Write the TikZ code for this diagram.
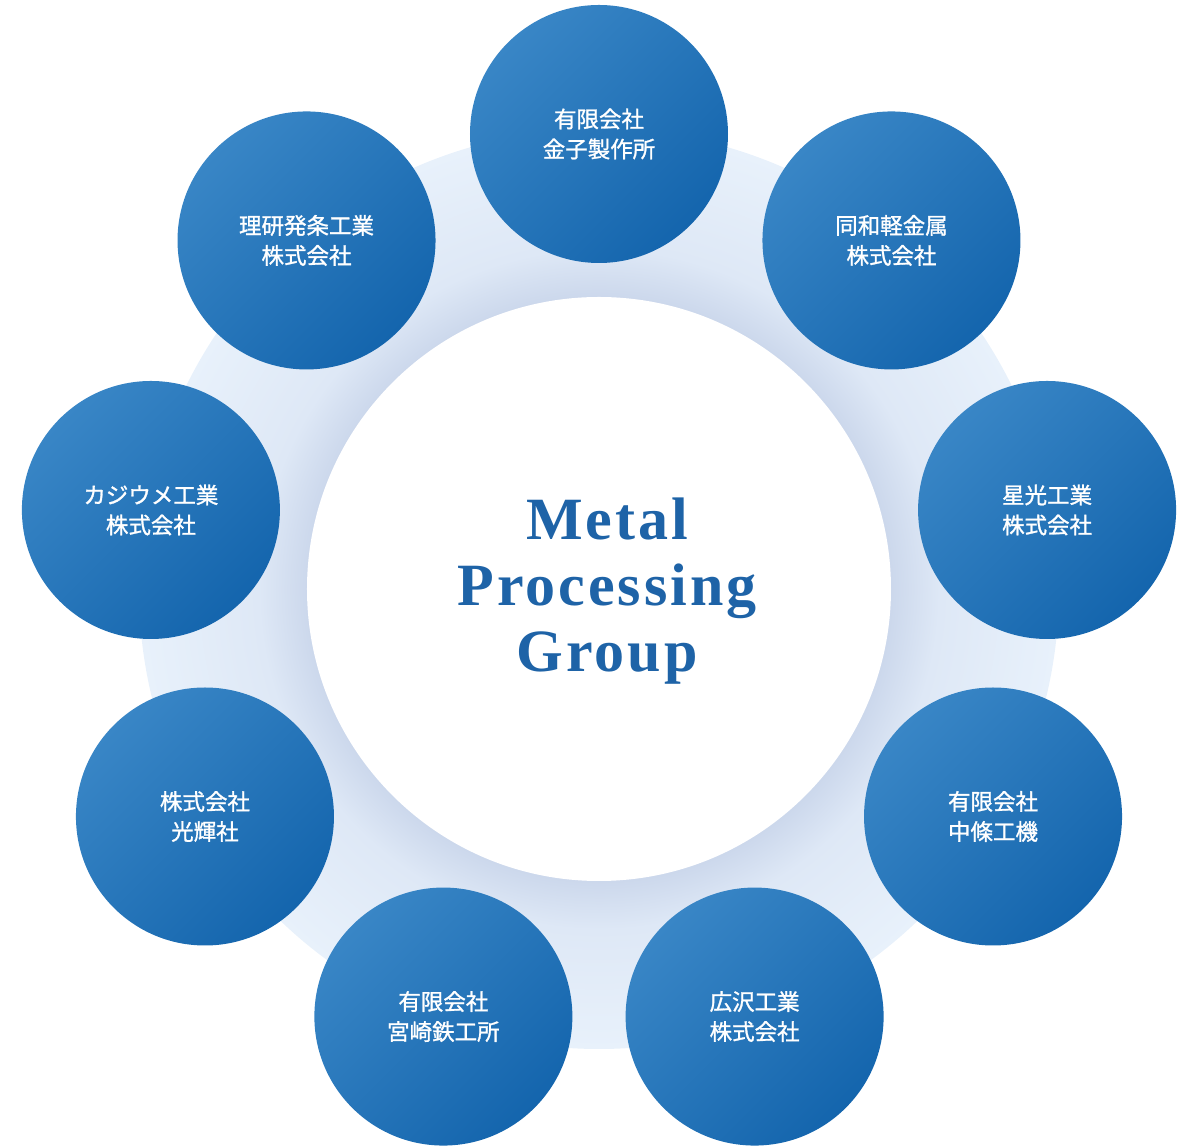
\documentclass[tikz,border=0pt]{standalone}
\usepackage{fontspec}
\usepackage[rgb]{xcolor}
\usepackage{tikz}

\newfontfamily\jpfont[FakeBold=1.2]{Noto Sans CJK JP}
\newfontfamily\titlefont[LetterSpace=5]{Liberation Serif}

\definecolor{firmlight}{HTML}{3986C6}
\definecolor{firmdark}{HTML}{1465AD}
\definecolor{ringlight}{HTML}{E8F1FB}
\definecolor{ringmid}{HTML}{DEE8F6}
\definecolor{ringshadow}{HTML}{CCD8EC}
\definecolor{titleblue}{HTML}{1E63A7}

\pgfdeclareradialshading{ringshade}{\pgfpoint{0bp}{0bp}}{%
  color(0bp)=(ringshadow); color(15.9bp)=(ringshadow);
  color(18.5bp)=(ringmid); color(25bp)=(ringlight); color(50bp)=(ringlight)}

\tikzset{
  firm/.style={circle, minimum size=258pt, inner sep=0pt,
    top color=firmlight, bottom color=firmdark, shading angle=45,
    text=white, align=center, font=\jpfont\fontsize{22.5}{30}\selectfont},
  hub/.style={align=center, text=titleblue,
    font=\titlefont\bfseries\fontsize{60}{66}\selectfont}
}

\begin{document}
\begin{tikzpicture}[x=1pt,y=1pt]
        \useasboundingbox (-599,-558) rectangle (587,589);
        % ring and centre disc
        \shade[shading=ringshade] (0,0) circle (460);
        \fill[white] (0,0) circle (292);
        \node[hub] (group) at (8,-2) {Metal\\Processing\\Group};
        % member companies round the ring
        \foreach \a/\name [count=\i] in {
            90/{有限会社\\金子製作所},
            50/{同和軽金属\\株式会社},
            10/{星光工業\\株式会社},
            -30/{有限会社\\中條工機},
            -70/{広沢工業\\株式会社},
            -110/{有限会社\\宮崎鉄工所},
            -150/{株式会社\\光輝社},
            170/{カジウメ工業\\株式会社},
            130/{理研発条工業\\株式会社}}
        \node[firm] (firm\i) at (\a:455) {\name};
\end{tikzpicture}
\end{document}
